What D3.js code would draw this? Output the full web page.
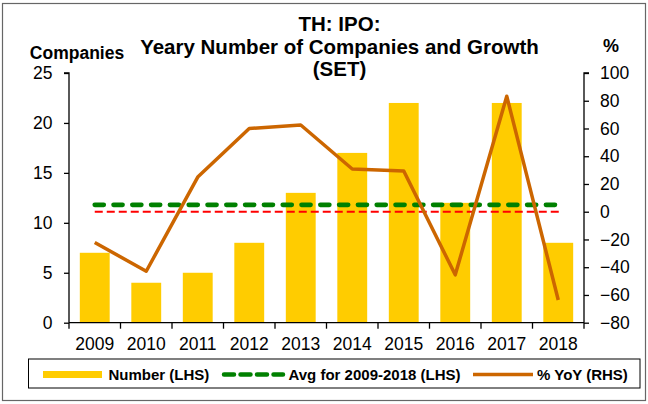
<!DOCTYPE html>
<html><head><meta charset="utf-8">
<script src="https://cdn.jsdelivr.net/npm/d3@7"></script>
<style>body{margin:0;background:#fff;}svg{display:block;font-family:Arial,"Liberation Sans",sans-serif;}</style>
</head><body><svg id="c" width="648" height="404"></svg>
<script>
const years = ["2009","2010","2011","2012","2013","2014","2015","2016","2017","2018"];
const numbers = [7,4,5,8,13,17,22,12,22,8];
const yoy = [-22.2,-42.9,25,60,62.5,30.8,29.4,-45.5,83.3,-63.6];
const avgValue = 11.8;
const leftTicks = [0,5,10,15,20,25];
const rightTicks = [-80,-60,-40,-20,0,20,40,60,80,100];
const titleLines = ["TH: IPO:","Yeary Number of Companies and Growth","(SET)"];

const svg = d3.select("#c");
const L = 69, R = 584, T = 73, B = 322.7;
svg.append("rect").attr("x",2.5).attr("y",3.5).attr("width",643).attr("height",397).attr("fill","#fff").attr("stroke","#666").attr("stroke-width",1.2);

const x = d3.scaleBand().domain(years).range([L,R]).paddingInner(0.42).paddingOuter(0.21);
const yL = d3.scaleLinear().domain([0,25]).range([B,T]);
const yR = d3.scaleLinear().domain([-80,100]).range([B,T]);
const cx = d => x(d) + x.bandwidth()/2;

// bars
svg.append("g").selectAll("rect").data(numbers).join("rect")
  .attr("x",(d,i)=>x(years[i])).attr("width",x.bandwidth())
  .attr("y",d=>yL(d)).attr("height",d=>yL(0)-yL(d)).attr("fill","#FFCC00");

// red zero line
svg.append("line").attr("x1",cx(years[0])).attr("x2",cx(years[9])+3)
  .attr("y1",yR(0)).attr("y2",yR(0)).attr("stroke","#FF0000").attr("stroke-width",2).attr("stroke-dasharray","8,4");
// green avg
svg.append("line").attr("x1",cx(years[0])).attr("x2",cx(years[9]))
  .attr("y1",yL(avgValue)).attr("y2",yL(avgValue)).attr("stroke","#008000").attr("stroke-width",4.7)
  .attr("stroke-linecap","round").attr("stroke-dasharray","9,9.8");

// yoy line
svg.append("path").datum(yoy).attr("fill","none").attr("stroke","#CC6600").attr("stroke-width",3.5)
  .attr("stroke-linejoin","round")
  .attr("d",d3.line().x((d,i)=>cx(years[i])).y(d=>yR(d)));

// axes
const fs = "17.5px";
const gl = svg.append("g").attr("transform",`translate(${L},0)`)
  .call(d3.axisLeft(yL).tickValues(leftTicks).tickSize(5).tickPadding(11.5));
const gr = svg.append("g").attr("transform",`translate(${R},0)`)
  .call(d3.axisRight(yR).tickValues(rightTicks).tickSize(5).tickPadding(11));
const gb = svg.append("g").attr("transform",`translate(0,${B})`)
  .call(d3.axisBottom(x).tickSize(0).tickPadding(15));
[gl,gr,gb].forEach(g=>{
  g.select(".domain").attr("stroke","#000").attr("stroke-width",1.3);
  g.selectAll(".tick line").attr("stroke","#000").attr("stroke-width",1.3);
  g.selectAll("text").attr("font-size",fs).attr("fill","#000").attr("font-family","Arial, 'Liberation Sans', sans-serif");
});
gl.select(".domain").attr("d",`M-5,${T}H0V${B}`);
gr.select(".domain").attr("d",`M5,${T}H0V${B}`);
gb.select(".domain").attr("d",`M${L},0H${R}`);
// x boundary ticks
const bounds = years.map(y=>x(y)-x.step()*x.paddingInner()/2).concat([R]);
bounds[0]=L;
gb.selectAll(".bt").data(bounds).join("line").attr("class","bt")
  .attr("x1",d=>d).attr("x2",d=>d).attr("y1",0).attr("y2",6).attr("stroke","#000").attr("stroke-width",1.3);

// titles
const tt = svg.append("text").attr("text-anchor","middle").attr("font-weight","bold").attr("font-size","20.5px");
titleLines.forEach((t,i)=>tt.append("tspan").attr("x",339.5).attr("y",31+i*22.5).text(t));
svg.append("text").attr("x",77).attr("y",59).attr("text-anchor","middle").attr("font-weight","bold").attr("font-size","17.5px").text("Companies");
svg.append("text").attr("x",611).attr("y",52).attr("text-anchor","middle").attr("font-weight","bold").attr("font-size","18px").text("%");

// legend
svg.append("rect").attr("x",28.5).attr("y",359).attr("width",611.5).attr("height",29).attr("fill","#fff").attr("stroke","#000").attr("stroke-width",1);
const ly = 374.5;
const lg = svg.append("g");
lg.append("line").attr("x1",43).attr("x2",102).attr("y1",ly).attr("y2",ly).attr("stroke","#FFCC00").attr("stroke-width",7);
lg.append("line").attr("x1",224).attr("x2",283).attr("y1",ly).attr("y2",ly).attr("stroke","#008000").attr("stroke-width",4.5).attr("stroke-linecap","round").attr("stroke-dasharray","10,6.5");
lg.append("line").attr("x1",473).attr("x2",533).attr("y1",ly).attr("y2",ly).attr("stroke","#CC6600").attr("stroke-width",3.5);
const legTexts = [["Number (LHS)",108.5],["Avg for 2009-2018 (LHS)",288.5],["% YoY (RHS)",537]];
lg.selectAll("text").data(legTexts).join("text").attr("x",d=>d[1]).attr("y",380).attr("font-weight","bold").attr("font-size","15px").text(d=>d[0]);
</script></body></html>
